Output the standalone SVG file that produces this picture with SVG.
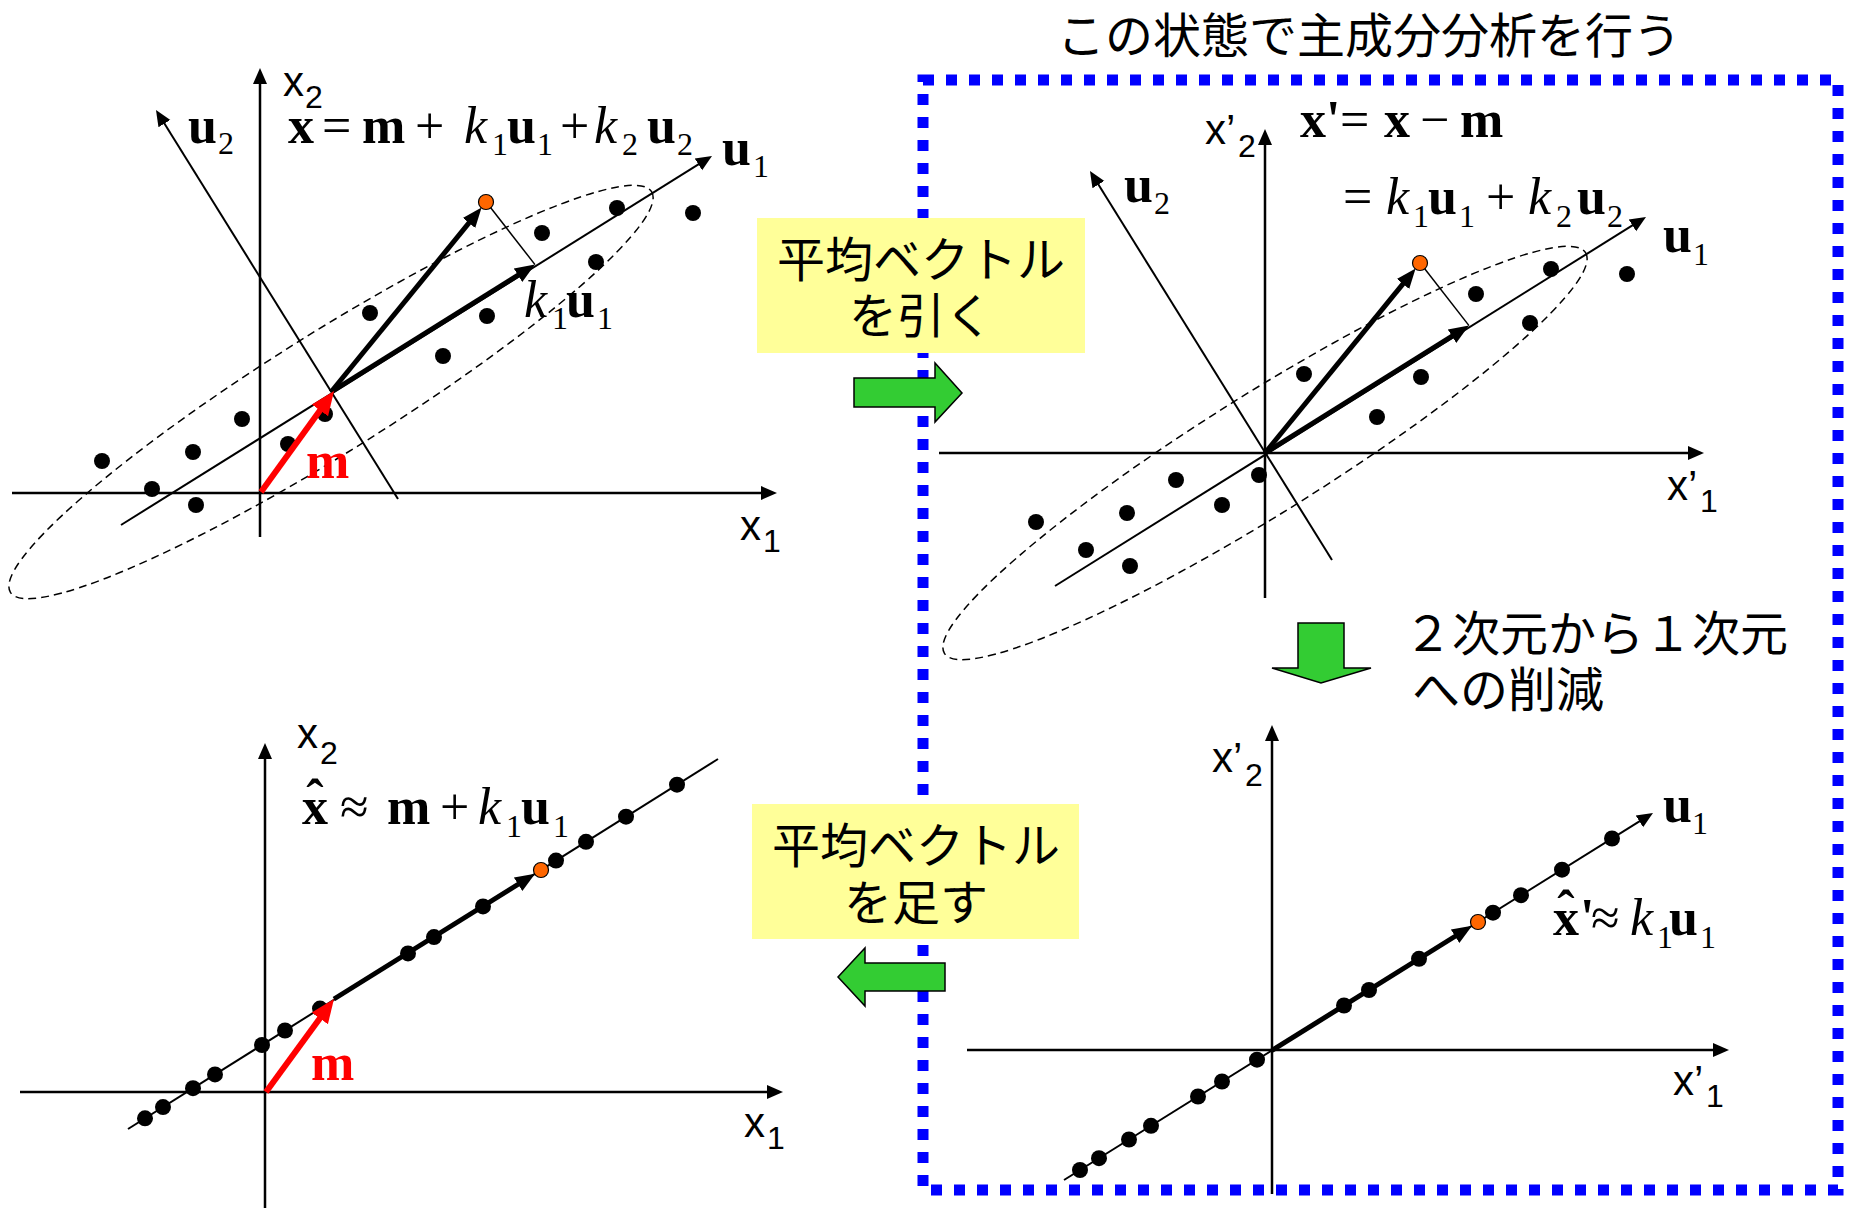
<svg xmlns="http://www.w3.org/2000/svg" width="1852" height="1209" viewBox="0 0 1852 1209">
<style>
.ax{stroke:#000;stroke-width:2.5;fill:none}
.ln{stroke:#000;stroke-width:2;fill:none}
.thin{stroke:#000;stroke-width:1.5;fill:none}
.thk{stroke:#000;stroke-width:5;fill:none}
.red{stroke:#FF0000;stroke-width:6;fill:none}
.ell{stroke:#000;stroke-width:1.5;fill:none;stroke-dasharray:8 5}
.dot{fill:#000}
.org{fill:#FF6600;stroke:#000;stroke-width:1.2}
.lbl{font-family:"Liberation Sans",Arial,sans-serif;font-size:42px;fill:#000}
.sb{font-size:32px}
.eq{font-family:"Liberation Serif","Times New Roman",serif;font-size:52px;fill:#000}
.b{font-weight:bold}
.i{font-style:italic}
.s{font-size:32px;font-weight:normal;font-style:normal}
.jp{font-family:"Noto Sans CJK JP",sans-serif;font-size:48px;fill:#000}
.note{fill:#FFFF99}
.garrow{fill:#33CC33;stroke:#000;stroke-width:1.5}
.frame{fill:none;stroke:#0000FF;stroke-width:11;stroke-dasharray:11 12}
.mlab{font-family:"Liberation Serif","Times New Roman",serif;font-weight:bold;font-size:52px;fill:#FF0000}
</style>
<defs>
<marker id="ah" markerUnits="userSpaceOnUse" viewBox="0 -10 24 20" markerWidth="24" markerHeight="20" refX="8" refY="0" orient="auto"><path d="M0,-7 L16,0 L0,7 z" fill="#000"/></marker>
<marker id="ahk" markerUnits="userSpaceOnUse" viewBox="0 -10 24 20" markerWidth="24" markerHeight="20" refX="10" refY="0" orient="auto"><path d="M0,-8 L20,0 L0,8 z" fill="#000"/></marker>
<marker id="ahr" markerUnits="userSpaceOnUse" viewBox="0 -12 26 24" markerWidth="26" markerHeight="24" refX="12" refY="0" orient="auto"><path d="M0,-10 L24,0 L0,10 z" fill="#FF0000"/></marker>
<g id="cloud">
<ellipse class="ell" cx="331" cy="392" rx="378" ry="60" transform="rotate(-32 331 392)"/>
<path class="ln" d="M121,525 L705.2,160.2" marker-end="url(#ah)"/>
<path class="ln" d="M398,499 L160.2,116.8" marker-end="url(#ah)"/>
<circle class="dot" cx="102" cy="461" r="8"/>
<circle class="dot" cx="152" cy="489" r="8"/>
<circle class="dot" cx="196" cy="505" r="8"/>
<circle class="dot" cx="193" cy="452" r="8"/>
<circle class="dot" cx="242" cy="419" r="8"/>
<circle class="dot" cx="288" cy="444" r="8"/>
<circle class="dot" cx="325" cy="414" r="8"/>
<circle class="dot" cx="370" cy="313" r="8"/>
<circle class="dot" cx="443" cy="356" r="8"/>
<circle class="dot" cx="487" cy="316" r="8"/>
<circle class="dot" cx="542" cy="233" r="8"/>
<circle class="dot" cx="596" cy="262" r="8"/>
<circle class="dot" cx="617" cy="208" r="8"/>
<circle class="dot" cx="693" cy="213" r="8"/>
<path class="thin" d="M487,203 L535,264.6"/>
<path class="thk" d="M331,392 L475.3,215.2" marker-end="url(#ahk)"/>
<path class="thk" d="M331,392 L526.5,269.9" marker-end="url(#ahk)"/>
<circle class="org" cx="486" cy="202" r="7.5"/>
</g>
</defs>

<rect id="pca-frame" class="frame" x="923" y="80" width="915" height="1110"/>

<g id="panel-original">
<path class="ax" d="M260,537 L260,76" marker-end="url(#ah)"/>
<path class="ax" d="M12,493 L769,493" marker-end="url(#ah)"/>
<use href="#cloud"/>
<path class="red" d="M261,492 L327,400.7" marker-end="url(#ahr)"/>
<text class="mlab" x="306" y="478">m</text>
<text class="lbl" x="283" y="96">x<tspan class="sb" x="305" y="108">2</tspan></text>
<text class="lbl" x="740" y="540">x<tspan class="sb" x="763" y="552">1</tspan></text>
<text class="eq"><tspan class="b" x="188" y="143">u</tspan><tspan class="s" x="218" y="154">2</tspan></text>
<text class="eq"><tspan class="b" x="722" y="165">u</tspan><tspan class="s" x="753" y="177">1</tspan></text>
<text class="eq"><tspan class="i" x="524" y="317">k</tspan><tspan class="s" x="552" y="329">1</tspan><tspan class="b" x="566" y="317">u</tspan><tspan class="s" x="597" y="329">1</tspan></text>
<text class="eq"><tspan class="b" x="288" y="143">x</tspan><tspan x="322" y="143">=</tspan><tspan class="b" x="362" y="143">m</tspan><tspan x="415" y="143">+</tspan><tspan class="i" x="464" y="143">k</tspan><tspan class="s" x="492" y="155">1</tspan><tspan class="b" x="507" y="143">u</tspan><tspan class="s" x="537" y="155">1</tspan><tspan x="560" y="143">+</tspan><tspan class="i" x="594" y="143">k</tspan><tspan class="s" x="622" y="155">2</tspan><tspan class="b" x="647" y="143">u</tspan><tspan class="s" x="677" y="155">2</tspan></text>
</g>

<g id="panel-centered">
<path class="ax" d="M1265,598 L1265,137" marker-end="url(#ah)"/>
<path class="ax" d="M939,453 L1696,453" marker-end="url(#ah)"/>
<use href="#cloud" transform="translate(934,61)"/>
<text class="lbl" x="1205" y="144">x’<tspan class="sb" x="1238" y="157">2</tspan></text>
<text class="lbl" x="1667" y="500">x’<tspan class="sb" x="1700" y="512">1</tspan></text>
<text class="eq"><tspan class="b" x="1124" y="202">u</tspan><tspan class="s" x="1154" y="214">2</tspan></text>
<text class="eq"><tspan class="b" x="1663" y="252">u</tspan><tspan class="s" x="1693" y="265">1</tspan></text>
<text class="eq"><tspan class="b" x="1300" y="137">x</tspan><tspan class="b" x="1326" y="137">'</tspan><tspan x="1340" y="137">=</tspan><tspan class="b" x="1384" y="137">x</tspan><tspan x="1420" y="137">−</tspan><tspan class="b" x="1460" y="137">m</tspan></text>
<text class="eq"><tspan x="1343" y="214">=</tspan><tspan class="i" x="1386" y="214">k</tspan><tspan class="s" x="1413" y="227">1</tspan><tspan class="b" x="1428" y="214">u</tspan><tspan class="s" x="1459" y="227">1</tspan><tspan x="1486" y="214">+</tspan><tspan class="i" x="1528" y="214">k</tspan><tspan class="s" x="1556" y="227">2</tspan><tspan class="b" x="1577" y="214">u</tspan><tspan class="s" x="1607" y="227">2</tspan></text>
</g>

<g id="panel-reduced">
<path class="ax" d="M1272,1194 L1272,733" marker-end="url(#ah)"/>
<path class="ax" d="M967,1050 L1721,1050" marker-end="url(#ah)"/>
<path class="ln" d="M1064,1180 L1646.2,817.2" marker-end="url(#ah)"/>
<circle class="dot" cx="1080" cy="1170" r="8"/>
<circle class="dot" cx="1099" cy="1158.2" r="8"/>
<circle class="dot" cx="1129" cy="1139.5" r="8"/>
<circle class="dot" cx="1151" cy="1125.8" r="8"/>
<circle class="dot" cx="1198" cy="1096.5" r="8"/>
<circle class="dot" cx="1222" cy="1081.5" r="8"/>
<circle class="dot" cx="1257" cy="1059.7" r="8"/>
<circle class="dot" cx="1344" cy="1005.5" r="8"/>
<circle class="dot" cx="1369" cy="990" r="8"/>
<circle class="dot" cx="1419" cy="958.8" r="8"/>
<circle class="dot" cx="1493" cy="912.7" r="8"/>
<circle class="dot" cx="1521" cy="895.2" r="8"/>
<circle class="dot" cx="1562" cy="869.7" r="8"/>
<circle class="dot" cx="1612" cy="838.5" r="8"/>
<path class="thk" d="M1272,1050.4 L1463.6,931" marker-end="url(#ahk)"/>
<circle class="org" cx="1478" cy="922" r="7.5"/>
<text class="lbl" x="1212" y="772">x’<tspan class="sb" x="1245" y="786">2</tspan></text>
<text class="lbl" x="1673" y="1095">x’<tspan class="sb" x="1706" y="1107">1</tspan></text>
<text class="eq"><tspan class="b" x="1663" y="822">u</tspan><tspan class="s" x="1692" y="834">1</tspan></text>
<text class="eq"><tspan class="b" x="1566" y="927" text-anchor="middle">ˆ</tspan><tspan class="b" x="1553" y="935" text-anchor="start">x</tspan><tspan class="b" x="1580" y="935">'</tspan><tspan x="1591" y="935">≈</tspan><tspan class="i" x="1630" y="935">k</tspan><tspan class="s" x="1657" y="948">1</tspan><tspan class="b" x="1669" y="935">u</tspan><tspan class="s" x="1700" y="948">1</tspan></text>
</g>

<g id="panel-restored">
<path class="ax" d="M265,1208 L265,751" marker-end="url(#ah)"/>
<path class="ax" d="M20,1092 L775,1092" marker-end="url(#ah)"/>
<path class="ln" d="M128,1129 L718,759"/>
<circle class="dot" cx="145" cy="1118.3" r="8"/>
<circle class="dot" cx="163" cy="1107.1" r="8"/>
<circle class="dot" cx="193" cy="1088.2" r="8"/>
<circle class="dot" cx="215" cy="1074.4" r="8"/>
<circle class="dot" cx="262" cy="1045" r="8"/>
<circle class="dot" cx="285" cy="1030.5" r="8"/>
<circle class="dot" cx="320" cy="1008.6" r="8"/>
<circle class="dot" cx="408" cy="953.4" r="8"/>
<circle class="dot" cx="434" cy="937.1" r="8"/>
<circle class="dot" cx="483" cy="906.4" r="8"/>
<circle class="dot" cx="556" cy="860.6" r="8"/>
<circle class="dot" cx="586" cy="841.8" r="8"/>
<circle class="dot" cx="626" cy="816.7" r="8"/>
<circle class="dot" cx="677" cy="784.7" r="8"/>
<path class="thk" d="M334,999 L526.6,879" marker-end="url(#ahk)"/>
<circle class="org" cx="541" cy="870" r="7.5"/>
<path class="red" d="M266,1092 L326.9,1008.7" marker-end="url(#ahr)"/>
<text class="mlab" x="311" y="1080">m</text>
<text class="lbl" x="297" y="748">x<tspan class="sb" x="320" y="764">2</tspan></text>
<text class="lbl" x="744" y="1137">x<tspan class="sb" x="767" y="1149">1</tspan></text>
<text class="eq"><tspan class="b" x="315" y="816" text-anchor="middle">ˆ</tspan><tspan class="b" x="302" y="824" text-anchor="start">x</tspan><tspan x="340" y="824">≈</tspan><tspan class="b" x="387" y="824">m</tspan><tspan x="440" y="824">+</tspan><tspan class="i" x="478" y="824">k</tspan><tspan class="s" x="506" y="837">1</tspan><tspan class="b" x="521" y="824">u</tspan><tspan class="s" x="553" y="837">1</tspan></text>
</g>

<g id="title">
<text class="jp" x="1369" y="53" text-anchor="middle">この状態で主成分分析を行う</text>
</g>

<g id="note-subtract">
<rect class="note" x="757" y="218" width="328" height="135"/>
<text class="jp" text-anchor="middle"><tspan x="921" y="277">平均ベクトル</tspan><tspan x="921" y="333">を引く</tspan></text>
</g>

<g id="note-add">
<rect class="note" x="752" y="804" width="327" height="135"/>
<text class="jp" text-anchor="middle"><tspan x="916" y="863">平均ベクトル</tspan><tspan x="916" y="920">を足す</tspan></text>
</g>

<g id="note-reduce">
<text class="jp"><tspan x="1404" y="651">２次元から１次元</tspan><tspan x="1412" y="707">への削減</tspan></text>
</g>

<g id="connectors">
<polygon class="garrow" points="854,378 935,378 935,363 962,393 935,422 935,407 854,407"/>
<polygon class="garrow" points="945,963 865,963 865,948 838,977 865,1006 865,991 945,991"/>
<polygon class="garrow" points="1298,623 1344,623 1344,668 1371,668 1321,683 1272,668 1298,668"/>
</g>
</svg>
